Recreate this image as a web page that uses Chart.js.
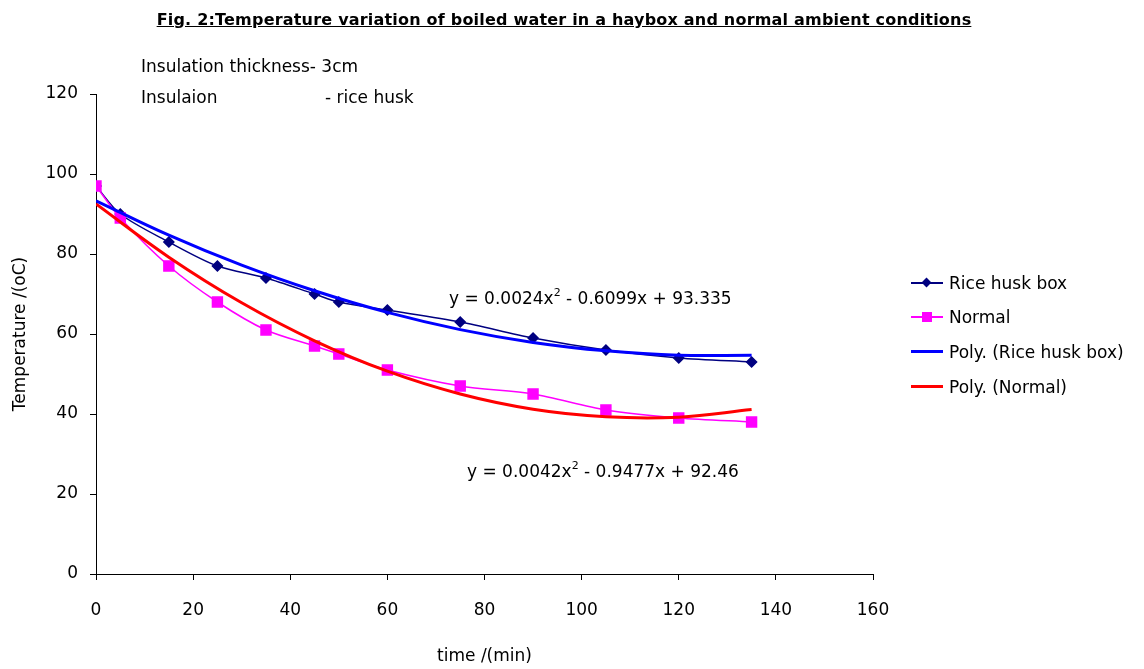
<!DOCTYPE html>
<html>
<head>
<meta charset="utf-8">
<script src="https://cdn.jsdelivr.net/npm/chart.js@4.4.1/dist/chart.umd.min.js"></script>
<style>
body { margin: 0; background: #fff; }
#wrap { position: relative; width: 1144px; height: 669px; font-family: 'Comic Sans MS', 'DejaVu Sans', sans-serif; color: #000; }
#graph { position: absolute; left: 0; top: 0; }
.txt { position: absolute; white-space: nowrap; font-size: 17px; line-height: 20px; }
.title { position: absolute; left: 0; width: 1128px; top: 10px; text-align: center; font-size: 16px; font-weight: bold; text-decoration: underline; white-space: nowrap; letter-spacing: 0.2px; }
.txt sup { font-size: 11px; line-height: 0; position: relative; top: -1px; }
.leg { position: absolute; left: 911px; height: 20px; width: 230px; }
.leg .ln { position: absolute; left: 0; top: 9px; width: 32px; height: 2px; }
.leg .mk { position: absolute; }
.leg span { position: absolute; left: 38px; top: 0; font-size: 17px; line-height: 20px; white-space: nowrap; }
</style>
</head>
<body>
<div id="wrap">
  <canvas id="graph" width="1144" height="669"></canvas>
  <div class="title">Fig. 2:Temperature variation of boiled water in a haybox and normal ambient conditions</div>
  <div class="txt" style="left:141px; top:56px;">Insulation thickness- 3cm</div>
  <div class="txt" style="left:141px; top:87px;">Insulaion</div>
  <div class="txt" style="left:325px; top:87px;">- rice husk</div>
  <div class="txt" style="left:449px; top:288px;">y = 0.0024x<sup>2</sup> - 0.6099x + 93.335</div>
  <div class="txt" style="left:467px; top:461px;">y = 0.0042x<sup>2</sup> - 0.9477x + 92.46</div>

  <div class="leg" style="top:273px;"><div class="ln" style="background:#000080;height:1.5px;"></div><div class="mk" style="left:12px;top:6px;width:7px;height:7px;background:#000080;transform:rotate(45deg);"></div><span>Rice husk box</span></div>
  <div class="leg" style="top:307px;"><div class="ln" style="background:#ff00ff;height:1.5px;"></div><div class="mk" style="left:11px;top:5px;width:10px;height:10px;background:#ff00ff;"></div><span>Normal</span></div>
  <div class="leg" style="top:342px;"><div class="ln" style="background:#0000ff;height:3px;top:8px;"></div><span>Poly. (Rice husk box)</span></div>
  <div class="leg" style="top:377px;"><div class="ln" style="background:#ff0000;height:3px;top:8px;"></div><span>Poly. (Normal)</span></div>
</div>
<script>
var time = [0, 5, 15, 25, 35, 45, 50, 60, 75, 90, 105, 120, 135];
var riceHusk = [97, 90, 83, 77, 74, 70, 68, 66, 63, 59, 56, 54, 53];
var normal = [97, 89, 77, 68, 61, 57, 55, 51, 47, 45, 41, 39, 38];

// trend lines every 15 min
var trendTime = [0, 15, 30, 45, 60, 75, 90, 105, 120, 135];
var polyRice = [93.3, 84.7, 77.2, 70.8, 65.4, 61.1, 57.9, 55.8, 54.7, 54.7];
var polyNormal = [92.5, 79.2, 67.8, 58.3, 50.7, 45.0, 41.2, 39.3, 39.2, 41.1];

var xTicks = [0, 20, 40, 60, 80, 100, 120, 140, 160];
var yTicks = [0, 20, 40, 60, 80, 100, 120];

function pts(xs, ys) {
    return xs.map(function(x, i) { return { x: x, y: ys[i] }; });
}

Chart.defaults.font.family = "'Comic Sans MS', 'DejaVu Sans', sans-serif";
Chart.defaults.font.size = 17;
Chart.defaults.color = '#000';

var ctx = document.getElementById('graph').getContext('2d');
var chart = new Chart(ctx, {
    type: 'line',
    data: {
        datasets: [{
            label: 'Rice husk box',
            data: pts(time, riceHusk),
            borderColor: '#000080',
            backgroundColor: '#000080',
            borderWidth: 1.5,
            pointStyle: 'rectRot',
            pointRadius: 5,
            tension: 0.3,
            order: 2
        }, {
            label: 'Normal',
            data: pts(time, normal),
            borderColor: '#ff00ff',
            backgroundColor: '#ff00ff',
            borderWidth: 1.5,
            pointStyle: 'rect',
            pointRadius: 7,
            tension: 0.3,
            order: 1
        }, {
            label: 'Poly. (Rice husk box)',
            data: pts(trendTime, polyRice),
            borderColor: '#0000ff',
            borderWidth: 3,
            pointRadius: 0,
            tension: 0.4,
            order: 0
        }, {
            label: 'Poly. (Normal)',
            data: pts(trendTime, polyNormal),
            borderColor: '#ff0000',
            borderWidth: 3,
            pointRadius: 0,
            tension: 0.4,
            order: 0
        }]
    },
    options: {
        responsive: false,
        animation: false,
        layout: { padding: { left: 0, right: 271, top: 94, bottom: 0 } },
        plugins: {
            legend: { display: false },
            tooltip: { enabled: false }
        },
        scales: {
            x: {
                type: 'linear',
                min: xTicks[0],
                max: xTicks[xTicks.length - 1],
                afterBuildTicks: function(s) { s.ticks = xTicks.map(function(v) { return { value: v }; }); },
                afterFit: function(s) { s.height = 95; },
                grid: { drawOnChartArea: false, drawTicks: true, tickLength: 6, color: '#000' },
                border: { color: '#000', width: 1 },
                ticks: { padding: 20 },
                title: { display: true, text: 'time /(min)', padding: { top: 0, bottom: 2 } }
            },
            y: {
                min: yTicks[0],
                max: yTicks[yTicks.length - 1],
                afterBuildTicks: function(s) { s.ticks = yTicks.map(function(v) { return { value: v }; }); },
                afterFit: function(s) { s.width = 96; },
                grid: { drawOnChartArea: false, drawTicks: true, tickLength: 6, color: '#000' },
                border: { color: '#000', width: 1 },
                ticks: { padding: 12 },
                title: { display: true, text: 'Temperature /(oC)', padding: { top: 10, bottom: 0 } }
            }
        }
    }
});
</script>
</body>
</html>
